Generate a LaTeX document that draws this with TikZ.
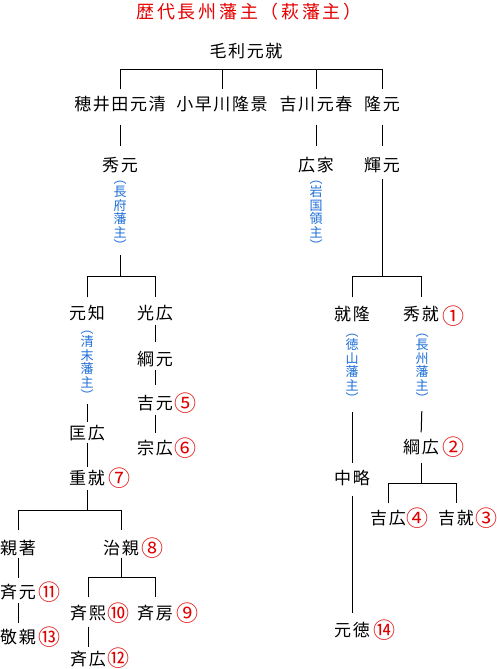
\documentclass[tikz,border=0pt]{standalone}
\usepackage{fontspec}
\setmainfont{Noto Sans CJK JP}
\newfontfamily\jpn[LetterSpace=9.5]{Noto Sans CJK JP}
\newfontfamily\jpt[LetterSpace=15]{Noto Sans CJK JP}
\definecolor{titlered}{HTML}{E60000}
\definecolor{numred}{HTML}{E00000}
\definecolor{annoblue}{HTML}{1E6FD9}
\begin{document}
\begin{tikzpicture}[x=1pt,y=-1pt,
  nm/.style={inner sep=0pt, text height=14.96pt, text depth=2.04pt, font=\jpn\fontsize{17}{20}\selectfont},
  num/.style={inner sep=0pt, text height=19.36pt, text depth=2.64pt, text=numred, font=\fontsize{22}{24}\selectfont},
  anno/.style={inner sep=0pt, align=center, text=annoblue, font=\fontsize{13}{13.5}\selectfont},
  ttl/.style={inner sep=0pt, text=titlered, font=\jpt\fontsize{18}{20}\selectfont},
  ln/.style={line width=1pt},
  gap/.style 2 args={shorten <=#1pt, shorten >=#2pt}]
\useasboundingbox (0,0) rectangle (497,669);
\fill[white] (0,0) rectangle (497,669);

\node[ttl] (title) at (249,12) {歴代長州藩主（萩藩主）};

% generation 1-3
\node[nm] (mori) at (246,51) {毛利元就};
\node[nm] (hoi)  at (120,104) {穂井田元清};
\node[nm] (koba) at (222,104) {小早川隆景};
\node[nm] (kikk) at (316,104) {吉川元春};
\node[nm] (taka) at (382,104) {隆元};
\node[nm] (hide) at (120,165) {秀元};
\node[nm] (hiro) at (316,165) {広家};
\node[nm] (teru) at (382,165) {輝元};

\node[anno] (a1) at (120,216) {︵\\長\\府\\藩\\主\\︶};
\node[anno] (a2) at (316,216) {︵\\岩\\国\\領\\主\\︶};

% left branch
\node[nm] (mtomo) at (87,313) {元知};
\node[nm] (mitsu) at (155,313) {光広};
\node[anno] (a3) at (87,366) {︵\\清\\末\\藩\\主\\︶};
\node[nm] (tsunamoto) at (155,359) {綱元};
\node[nm] (yoshimoto) at (155,403) {吉元};
\node[nm] (munehiro) at (155,448) {宗広};
\node[nm] (masahiro) at (87,433) {匡広};
\node[nm] (shigetaka) at (87,478) {重就};
\node[nm] (chikaaki) at (18,548) {親著};
\node[nm] (harychika) at (121,548) {治親};
\node[nm] (narimoto) at (18,592) {斉元};
\node[nm] (takachika) at (18,637) {敬親};
\node[nm] (nariyasu) at (88,613) {斉熙};
\node[nm] (narifusa) at (155,613) {斉房};
\node[nm] (narihiro) at (88,659) {斉広};

% right branch
\node[nm] (naritaka) at (352,314) {就隆};
\node[nm] (hidenari) at (421,314) {秀就};
\node[anno] (a4) at (352,369) {︵\\徳\\山\\藩\\主\\︶};
\node[anno] (a5) at (422,369) {︵\\長\\州\\藩\\主\\︶};
\node[nm] (churyaku) at (352,478) {中略};
\node[nm] (motonori) at (352,630) {元徳};
\node[nm] (tsunahiro) at (421,447) {綱広};
\node[nm] (yoshihiro) at (388,518) {吉広};
\node[nm] (yoshinari) at (456,518) {吉就};

% circled numbers
\node[num] (n1) at (453,316) {①};
\node[num] (n2) at (453,447) {②};
\node[num] (n3) at (486,518) {③};
\node[num] (n4) at (417,518) {④};
\node[num] (n5) at (185,403) {⑤};
\node[num] (n6) at (185,448) {⑥};
\node[num] (n7) at (119,478) {⑦};
\node[num] (n8) at (152,548) {⑧};
\node[num] (n9) at (187,613) {⑨};
\node[num] (n10) at (118,613) {⑩};
\node[num] (n11) at (49,592) {⑪};
\node[num] (n12) at (118,658) {⑫};
\node[num] (n13) at (49,637) {⑬};
\node[num] (n14) at (384,630) {⑭};

% bar coordinates
\coordinate (b1) at (0,70);
\coordinate (b2) at (0,276);
\coordinate (b4) at (0,483);
\coordinate (b5) at (0,510);
\coordinate (b6) at (0,577);

% gen1 bar
\draw[ln,gap={6}{6}] (hoi.north) -- (hoi.north |- b1) -- (taka.north |- b1) -- (taka.north);
\draw[ln,shorten >=6pt] (koba.north |- b1) -- (koba.north);
\draw[ln,shorten >=6pt] (kikk.north |- b1) -- (kikk.north);

% gen2 -> gen3
\draw[ln,gap={12}{10}] (hoi.south) -- (hide.north);
\draw[ln,gap={12}{10}] (kikk.south) -- (hiro.north);
\draw[ln,gap={12}{10}] (taka.south) -- (teru.north);

% 秀元 branch
\draw[ln,shorten <=4pt] (a1.south) -- (a1.south |- b2);
\draw[ln,gap={7}{7}] (mtomo.north) -- (mtomo.north |- b2) -- (mitsu.north |- b2) -- (mitsu.north);
% 輝元 branch
\draw[ln,shorten <=5pt] (teru.south) -- (teru.south |- b2);
\draw[ln,gap={8}{8}] (naritaka.north) -- (naritaka.north |- b2) -- (hidenari.north |- b2) -- (hidenari.north);

% 光広 chain
\draw[ln,gap={3}{8}] (mitsu.south) -- (tsunamoto.north);
\draw[ln,gap={2}{9}] (tsunamoto.south) -- (yoshimoto.north);
\draw[ln,gap={3}{6}] (yoshimoto.south) -- (munehiro.north);

% 元知 chain
\draw[ln,gap={3}{2}] (a3.south) -- (masahiro.north);
\draw[ln,gap={1}{2}] (masahiro.south) -- (shigetaka.north);
\draw[ln,shorten <=3pt] (shigetaka.south) -- (shigetaka.south |- b5);
\draw[ln,gap={9}{9}] (chikaaki.north) -- (chikaaki.north |- b5) -- (harychika.north |- b5) -- (harychika.north);
\draw[ln,gap={1}{5}] (chikaaki.south) -- (narimoto.north);
\draw[ln,gap={2}{5}] (narimoto.south) -- (takachika.north);
\draw[ln,shorten <=1pt] (harychika.south) -- (harychika.south |- b6);
\draw[ln,gap={7}{7}] (nariyasu.north) -- (nariyasu.north |- b6) -- (narifusa.north |- b6) -- (narifusa.north);
\draw[ln,gap={5}{3}] (nariyasu.south) -- (narihiro.north);

% 就隆 / 秀就 chains
\draw[ln,gap={8}{6}] (a4.south) -- (churyaku.north);
\draw[ln,gap={9}{8}] (churyaku.south) -- (motonori.north);
\draw[ln,gap={7}{6}] (a5.south) -- (tsunahiro.north);
\draw[ln,shorten <=7pt] (tsunahiro.south) -- (tsunahiro.south |- b4);
\draw[ln,gap={6}{6}] (yoshihiro.north) -- (yoshihiro.north |- b4) -- (yoshinari.north |- b4) -- (yoshinari.north);
\end{tikzpicture}
\end{document}
